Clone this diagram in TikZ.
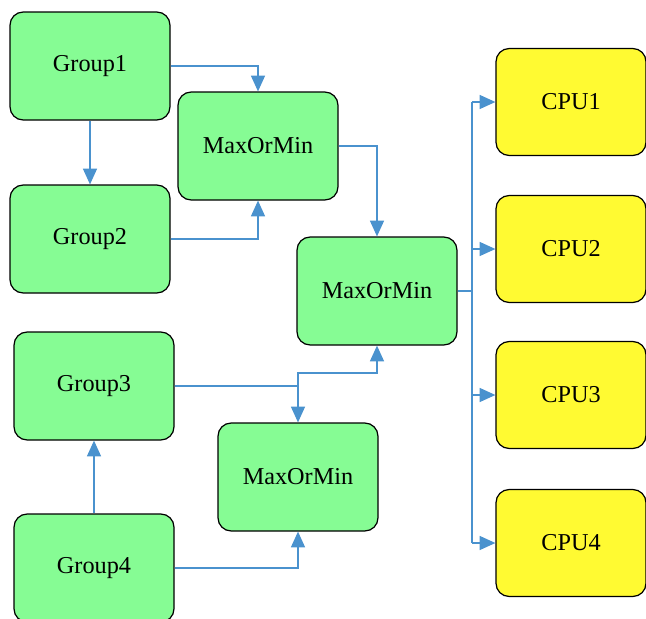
\documentclass[tikz,border=0pt]{standalone}
\usepackage{fontspec}
\setmainfont{Liberation Serif}
\usepackage{tikz}
\usetikzlibrary{arrows.meta, positioning}

\definecolor{boxgreen}{RGB}{134,252,148}
\definecolor{cpuyellow}{RGB}{255,250,50}
\definecolor{linkblue}{RGB}{74,146,206}

\begin{document}
\begin{tikzpicture}[
    group/.style={rectangle, rounded corners=7.5pt, minimum width=3.2cm, minimum height=2.16cm, text centered, draw=black, line width=0.7pt, fill=boxgreen, font=\fontsize{13.8}{16}\selectfont},
    reduce/.style={group},
    cpu/.style={rectangle, rounded corners=7.5pt, minimum width=3cm, minimum height=2.14cm, text centered, draw=black, line width=0.7pt, fill=cpuyellow, font=\fontsize{13.8}{16}\selectfont},
    arrow/.style={-{Triangle[length=9pt,width=8pt]}, draw=linkblue, line width=0.8pt},
    bus/.style={draw=linkblue, line width=0.8pt}
]
\useasboundingbox (0,0) rectangle (12.92,-12.38);
\node (g1) [group] at (1.8,-1.32) {Group1};
\node (g2) [group] at (1.8,-4.78) {Group2};
\node (g3) [group] at (1.88,-7.72) {Group3};
\node (g4) [group] at (1.88,-11.36) {Group4};
\node (max1) [reduce] at (5.16,-2.92) {MaxOrMin};
\node (max2) [reduce] at (7.54,-5.82) {MaxOrMin};
\node (max3) [reduce] at (5.96,-9.54) {MaxOrMin};
\node (cpu1) [cpu] at (11.42,-2.04) {CPU1};
\node (cpu2) [cpu] at (11.42,-4.98) {CPU2};
\node (cpu3) [cpu] at (11.42,-7.9) {CPU3};
\node (cpu4) [cpu] at (11.42,-10.86) {CPU4};
\coordinate (split) at (max3.north |- g3.east);
\coordinate (tap) at (9.44,-5.82);
% groups into the first stage
\draw [arrow] (g1.east) -| (max1.north);
\draw [arrow] (g1.south) -- (g2.north);
\draw [arrow] (g2.east) -| (max1.south);
\draw [arrow] (g4.north) -- (g3.south);
\draw [arrow] (g4.east) -| (max3.south);
\draw [arrow] (g3.east) -| (max3.north);
\draw [arrow] (split) -- ++(0,0.26) -| (max2.south);
\draw [arrow] (max1.east) -| (max2.north);
% fan out to the cpus
\draw [bus] (max2.east) -- (tap);
\draw [bus] (tap |- cpu1) -- (tap |- cpu4);
\foreach \i in {1,...,4}
    \draw [arrow] (tap |- cpu\i) -- (cpu\i.west);
\end{tikzpicture}
\end{document}
